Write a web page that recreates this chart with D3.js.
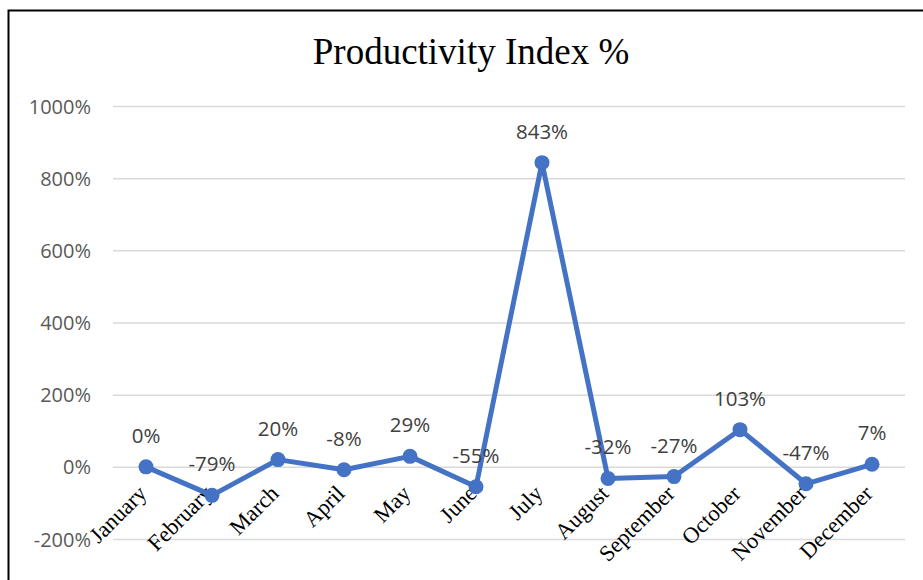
<!DOCTYPE html>
<html><head><meta charset="utf-8">
<script src="https://cdn.jsdelivr.net/npm/d3@7"></script>
<style>body{margin:0;background:#fff;}svg{display:block;}</style>
</head><body>
<script>
const months = ["January","February","March","April","May","June","July","August","September","October","November","December"];
const values = [0, -79, 20, -8, 29, -55, 843, -32, -27, 103, -47, 7];
const yTicks = [-200, 0, 200, 400, 600, 800, 1000];
const title = "Productivity Index %";

const W = 923, H = 580;
const svg = d3.select("body").append("svg").attr("width", W).attr("height", H);
svg.append("rect").attr("x", 8.5).attr("y", 10.5).attr("width", 930).attr("height", 600)
  .attr("fill", "#fff").attr("stroke", "#000").attr("stroke-width", 2);

const x = d3.scaleBand().domain(months).range([113, 905]);
const y = d3.scaleLinear().domain([-200, 1000]).range([539, 106]);

svg.append("text").attr("x", 471).attr("y", 64).attr("text-anchor", "middle")
  .attr("font-family", "Liberation Serif, Times New Roman, serif").attr("font-size", 37)
  .attr("fill", "#000").text(title);

const yAxis = d3.axisLeft(y).tickValues(yTicks).tickSize(-(905 - 113)).tickFormat(d => d + "%");
const gy = svg.append("g").attr("transform", "translate(113,0)").call(yAxis);
gy.select(".domain").remove();
gy.selectAll(".tick line").attr("stroke", "#d9d9d9").attr("stroke-width", 1.5);
gy.selectAll(".tick text").attr("x", -22).attr("dy", "0.35em").attr("fill", "#595959")
  .attr("font-family", "Open Sans, Liberation Sans, sans-serif").attr("font-size", 20);

const cx = d => x(d) + x.bandwidth() / 2;

const xAxis = d3.axisBottom(x).tickSize(0);
const gx = svg.append("g").attr("transform", `translate(0,${y(0)})`).call(xAxis);
gx.select(".domain").remove();
gx.selectAll(".tick text")
  .attr("font-family", "Liberation Serif, Times New Roman, serif").attr("font-size", 22.5)
  .attr("fill", "#000").attr("text-anchor", "end")
  .attr("x", 0).attr("y", 0).attr("dy", 0)
  .attr("transform", "translate(2,28) rotate(-45)");

const data = months.map((m, i) => ({m, v: values[i]}));
const line = d3.line().x(d => cx(d.m)).y(d => y(d.v));
svg.append("path").datum(data).attr("d", line).attr("fill", "none")
  .attr("stroke", "#4472C4").attr("stroke-width", 5).attr("stroke-linejoin", "round");
svg.selectAll("circle.pt").data(data).join("circle").attr("class", "pt")
  .attr("cx", d => cx(d.m)).attr("cy", d => y(d.v)).attr("r", 7.5).attr("fill", "#4472C4");
svg.selectAll("text.lbl").data(data).join("text").attr("class", "lbl")
  .attr("x", d => cx(d.m)).attr("y", d => y(d.v) - 24).attr("text-anchor", "middle")
  .attr("font-family", "Open Sans, Liberation Sans, sans-serif").attr("font-size", 20.5)
  .attr("fill", "#404040").text(d => d.v + "%");
</script>
</body></html>
